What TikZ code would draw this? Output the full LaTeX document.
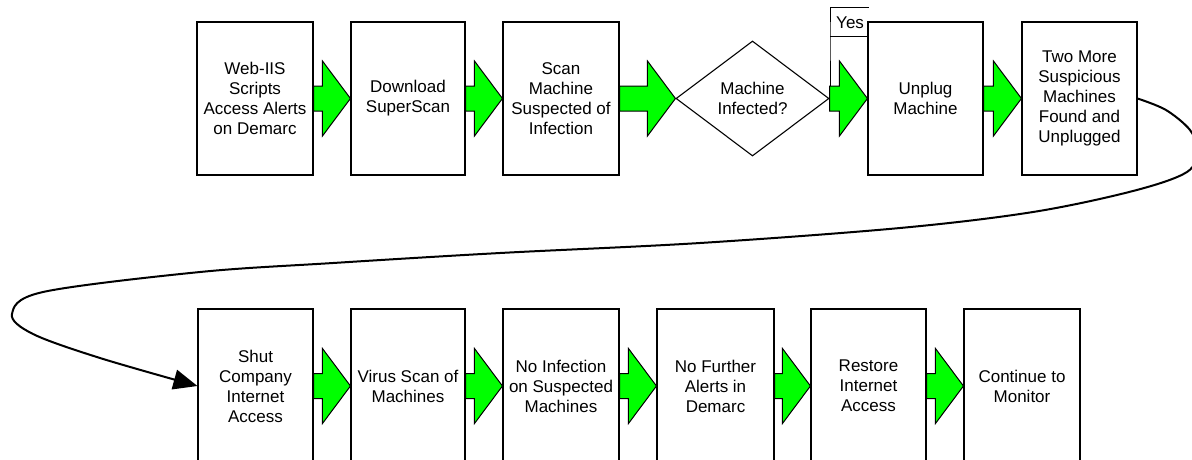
\documentclass[tikz,border=0pt]{standalone}
\usepackage{fontspec}
\setmainfont{Liberation Sans}
\usetikzlibrary{shapes.geometric,arrows.meta,calc}
\definecolor{arrowgreen}{RGB}{0,255,0}
\tikzset{
  stepbox/.style={draw=black, line width=1.1pt, fill=white, rectangle, inner sep=0pt,
    minimum height=153pt, align=center, font=\fontsize{17}{20}\selectfont},
  decbox/.style={draw=black, line width=1.1pt, fill=white, diamond, inner sep=0pt,
    minimum width=153pt, minimum height=115pt, align=center, font=\fontsize{17}{20}\selectfont},
  garrowst/.style={draw=black, line width=1pt, fill=arrowgreen, line join=miter},
  flowline/.style={draw=black, line width=2pt, -{Triangle[length=24pt,width=20pt]}},
  labelbox/.style={draw=black, line width=1pt},
  labeltext/.style={inner sep=0pt, anchor=base west, font=\fontsize{17}{20}\selectfont}
}
\newcommand\garrow[2]{%
  \path[garrowst] let \p1=(#1.east), \p2=(#2.west) in
   (\x1,\y2+12.5pt) -- (\x2-28pt,\y2+12.5pt) -- (\x2-28pt,\y2+37.5pt) -- (\x2,\y2)
   -- (\x2-28pt,\y2-37.5pt) -- (\x2-28pt,\y2-12.5pt) -- (\x1,\y2-12.5pt) -- cycle;}
\begin{document}
\begin{tikzpicture}[x=1pt,y=-1pt]
\useasboundingbox (0,0) rectangle (1192,459);
\clip (0,0) rectangle (1192,459);
% Yes label box (behind the Unplug box)
\coordinate (yesTL) at (830,7);
\coordinate (yesTR) at (869,7);
\coordinate (yesBL) at (830,36);
\coordinate (yesBR) at (869,36);
\coordinate (yesFoot) at (830,86);
\draw[labelbox] (yesFoot) -- (yesBL) -- (yesTL) -- (yesTR);
\draw[labelbox] (yesBL) -- (yesBR);
\node[labeltext] (yes) at (836,28) {Yes};
% top row
\node[stepbox, minimum width=116pt] (b1) at (255,98.5) {Web-IIS\\Scripts\\Access Alerts\\on Demarc};
\node[stepbox, minimum width=114pt] (b2) at (408,98.5) {Download\\SuperScan};
\node[stepbox, minimum width=116pt] (b3) at (561,98.5) {Scan\\Machine\\Suspected of\\Infection};
\node[decbox] (dia) at (752.5,98.5) {Machine\\Infected?};
\node[stepbox, minimum width=115pt] (b5) at (925.5,98.5) {Unplug\\Machine};
\node[stepbox, minimum width=115pt] (b6) at (1079.5,98.5) {Two More\\Suspicious\\Machines\\Found and\\Unplugged};
% bottom row
\node[stepbox, minimum width=115pt, minimum height=154pt] (c1) at (255.5,386) {Shut\\Company\\Internet\\Access};
\node[stepbox, minimum width=114pt, minimum height=154pt] (c2) at (408,386) {Virus Scan of\\Machines};
\node[stepbox, minimum width=116pt, minimum height=154pt] (c3) at (561,386) {No Infection\\on Suspected\\Machines};
\node[stepbox, minimum width=117pt, minimum height=154pt] (c4) at (715.5,386) {No Further\\Alerts in\\Demarc};
\node[stepbox, minimum width=115pt, minimum height=154pt] (c5) at (868.5,386) {Restore\\Internet\\Access};
\node[stepbox, minimum width=116pt, minimum height=154pt] (c6) at (1022,386) {Continue to\\Monitor};
% green block arrows
\garrow{b1}{b2}
\garrow{b2}{b3}
\garrow{b3}{dia}
\garrow{dia}{b5}
\garrow{b5}{b6}
\garrow{c1}{c2}
\garrow{c2}{c3}
\garrow{c3}{c4}
\garrow{c4}{c5}
\garrow{c5}{c6}
% long connector
\draw[flowline] plot[smooth, tension=0.55] coordinates {(b6.east) (1166,110) (1190,130) (1197,150) (1187,172) (1133,191) (1033,212) (900,228) (700,243) (500,253) (333,263) (200,272) (43,292) (12,314) (33,334) (100,358) (c1.west)};
\end{tikzpicture}
\end{document}
